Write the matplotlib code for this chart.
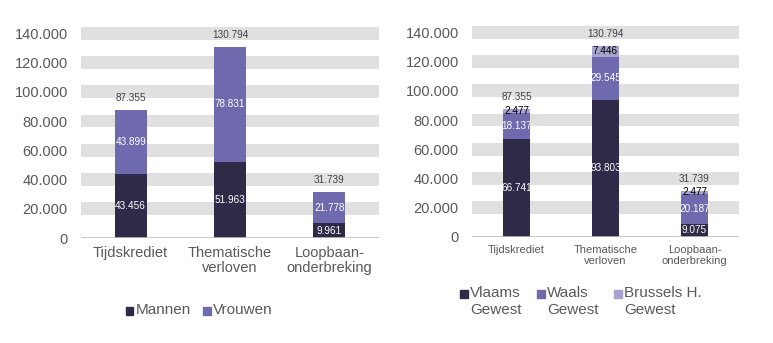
import matplotlib.pyplot as plt
import numpy as np

plt.rcParams['font.family'] = ['Liberation Sans', 'DejaVu Sans']

categories = ['Tijdskrediet', 'Thematische\nverloven', 'Loopbaan-\nonderbreking']

# left chart: gender
mannen = [43456, 51963, 9961]
vrouwen = [43899, 78831, 21778]

# right chart: region
vlaams = [66741, 93803, 9075]
waals = [18137, 29545, 20187]
brussels = [2477, 7446, 2477]

totals = [87355, 130794, 31739]
yticks = [0, 20000, 40000, 60000, 80000, 100000, 120000, 140000]

DARK = '#2E2A48'
MID = '#6F69AE'
LIGHT = '#A7A3CF'
GREY = '#595959'
W, H = 773, 343


def fmt(v):
    return f'{v:,}'.replace(',', '.')


def setup(ax, catsize):
    ax.set_xlim(-0.5, 2.5)
    ax.set_ylim(0, 145000)
    for v in yticks[1:]:
        ax.axhspan(v - 4400, v + 4400, color='#E0E0E0', lw=0, zorder=0)
    ax.axhline(0, color='#BFBFBF', lw=1.2, zorder=3)
    for s in ax.spines.values():
        s.set_visible(False)
    ax.set_yticks(yticks)
    ax.set_yticklabels([fmt(v) for v in yticks])
    ax.tick_params(axis='y', length=0, pad=9.5, labelsize=10.5, labelcolor=GREY)
    ax.set_xticks(range(3))
    ax.set_xticklabels(categories, fontsize=catsize, color=GREY, linespacing=1.05)
    ax.tick_params(axis='x', length=0, pad=6)


def stack(ax, series, colors, txtcolors, width):
    x = np.arange(3)
    bottom = np.zeros(3)
    for vals, c, tc in zip(series, colors, txtcolors):
        vals = np.array(vals)
        ax.bar(x, vals, width, bottom=bottom, color=c, zorder=2, edgecolor='none')
        for xi, b, v in zip(x, bottom, vals):
            ax.text(xi, b + v / 2, fmt(int(v)), ha='center', va='center',
                    fontsize=7.2, color=tc, zorder=4)
        bottom = bottom + vals
    for xi, t in zip(x, totals):
        ax.annotate(fmt(t), (xi, t), xytext=(0, 8.6), textcoords='offset points',
                    ha='center', va='center', fontsize=7.2, color='#404040')


def legend_item(x, y, color, label):
    # x, y in pixels from top-left: square left edge and first-line centre
    fig.patches.append(plt.Rectangle((x / W, 1 - (y + 4.5) / H), 7.5 / W, 7.5 / H,
                                     color=color, transform=fig.transFigure, figure=fig))
    fig.text((x + 10) / W, 1 - (y - 7) / H, label, ha='left', va='top',
             fontsize=11, color=GREY, linespacing=1.25)


fig = plt.figure(figsize=(W / 100, H / 100), dpi=100)

ax1 = fig.add_axes([81 / W, 105 / H, 298 / W, 212 / H])
setup(ax1, 10.5)
stack(ax1, [mannen, vrouwen], [DARK, MID], ['white', 'white'], 0.32)
legend_item(125.5, 310, DARK, 'Mannen')
legend_item(203, 310, MID, 'Vrouwen')

ax2 = fig.add_axes([472 / W, 106 / H, 267 / W, 212 / H])
setup(ax2, 8)
stack(ax2, [vlaams, waals, brussels], [DARK, MID, LIGHT], ['white', 'white', 'black'], 0.31)
legend_item(460, 293, DARK, 'Vlaams\nGewest')
legend_item(537, 293, MID, 'Waals\nGewest')
legend_item(614, 293, LIGHT, 'Brussels H.\nGewest')

fig.savefig('out.png', dpi=100)
